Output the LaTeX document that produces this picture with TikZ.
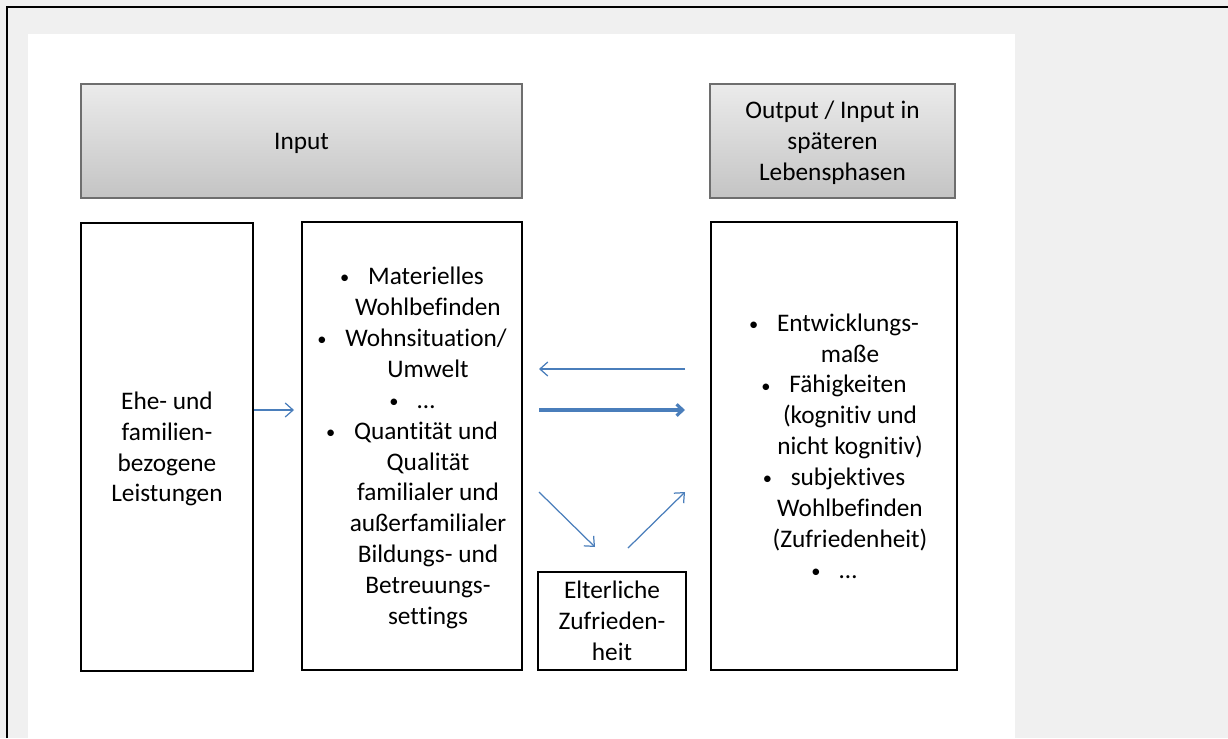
\documentclass[tikz,border=0pt]{standalone}
\usepackage{fontspec}
\setmainfont{Carlito}[RawFeature={-liga;-clig;-calt;-dlig}]
\usetikzlibrary{arrows.meta}
\definecolor{pagegray}{HTML}{F0F0F0}
\definecolor{arrowblue}{HTML}{4A7EBB}
\definecolor{hdrtop}{HTML}{EBEBEB}
\definecolor{hdrbot}{HTML}{C4C4C4}
\definecolor{hdrline}{HTML}{6E6E6E}
\tikzset{
  txt/.style={font=\fontsize{14.4}{17.57}\selectfont, text=black, align=center, inner sep=0pt},
  hdrbox/.style={txt, draw=hdrline, line width=0.9pt, top color=hdrtop, bottom color=hdrbot, minimum height=2.28cm},
  mainbox/.style={txt, draw=black, line width=1.4pt, fill=white},
  thinarrow/.style={draw=arrowblue, line width=0.7pt, -{Straight Barb[length=4.5pt,width=8pt]}},
  thickarrow/.style={draw=arrowblue, line width=1.8pt, -{Straight Barb[length=3.5pt,width=6.5pt]}}
}
\newcommand{\wst}{\rule[-3.87pt]{0pt}{17.57pt}}
\newcommand{\bul}{\wst\makebox[0.56cm][l]{\raisebox{0.5pt}{\fontsize{10.5}{10.5}\selectfont\textbullet}}}
\newcommand{\cont}{\wst\hspace*{0.64cm}}
\begin{document}
\begin{tikzpicture}[x=0.02cm,y=-0.02cm]
\useasboundingbox (0,0) rectangle (1228,738);
% page background
\fill[pagegray] (0,0) rectangle (1228,738);
\fill[white] (28,34) rectangle (1015,738);
\draw[black, line width=0.7pt] (7,738) -- (7,7) -- (1228,7);
% headers
\node[hdrbox, minimum width=8.82cm] (hin) at (301.5,141) {\wst Input};
\node[hdrbox, minimum width=4.9cm] (hout) at (832.5,141) {\wst Output / Input in\\\wst sp\"ateren\\\wst Lebensphasen};
% main boxes
\node[mainbox, minimum width=3.44cm, minimum height=8.96cm] (b1) at (167,447)
  {\wst Ehe- und\\\wst familien-\\\wst bezogene\\\wst Leistungen};
\node[mainbox, minimum width=4.4cm, minimum height=8.96cm] (b2) at (412,446)
  {\bul Materielles\\
   \cont Wohlbefinden\\
   \bul Wohnsituation/\\
   \cont Umwelt\\
   \bul …\\
   \bul Quantit\"at und\\
   \cont Qualit\"at\\
   \cont familialer und\\
   \cont au\ss erfamilialer\\
   \cont Bildungs- und\\
   \cont Betreuungs-\\
   \cont settings};
\node[mainbox, minimum width=2.96cm, minimum height=1.96cm] (b3) at (612,621)
  {\wst Elterliche\\\wst Zufrieden-\\\wst heit};
\node[mainbox, minimum width=4.92cm, minimum height=8.96cm] (b4) at (834,446)
  {\bul Entwicklungs-\\
   \cont ma\ss e\\
   \bul F\"ahigkeiten\\
   \cont (kognitiv und\\
   \cont nicht kognitiv)\\
   \bul subjektives\\
   \cont Wohlbefinden\\
   \cont (Zufriedenheit)\\
   \bul …};
% arrow end points
\coordinate (a1s) at (b1.east |- 0,410);
\coordinate (a1e) at (294,410);
\coordinate (l1s) at (685,369);
\coordinate (l1e) at (539,369);
\coordinate (r1s) at (539,410);
\coordinate (r1e) at (685,410);
\coordinate (d1s) at (539,492);
\coordinate (d1e) at (595,547);
\coordinate (u1s) at (628,548);
\coordinate (u1e) at (685,492);
% arrows
\draw[thinarrow] (a1s) -- (a1e);
\draw[thinarrow] (l1s) -- (l1e);
\draw[thickarrow] (r1s) -- (r1e);
\draw[thinarrow] (d1s) -- (d1e);
\draw[thinarrow] (u1s) -- (u1e);
\end{tikzpicture}
\end{document}
